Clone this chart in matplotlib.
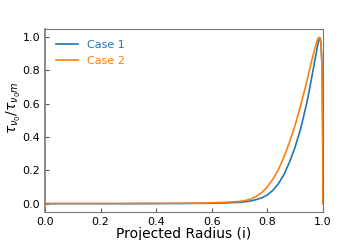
import matplotlib
matplotlib.use("Agg")
import matplotlib.pyplot as plt

# values
radius = [0.0, 0.1, 0.2, 0.3, 0.4, 0.5, 0.55, 0.6, 0.65, 0.7, 0.72, 0.74,
          0.76, 0.78, 0.8, 0.82, 0.84, 0.86, 0.88, 0.9, 0.92, 0.94, 0.95,
          0.96, 0.97, 0.975, 0.98, 0.984, 0.987, 0.99, 0.993, 0.996, 0.998,
          0.9993, 1.0]
case1 = [0.0, 0.0, 0.0, 0.0, 0.0005, 0.001, 0.0015, 0.002, 0.004, 0.008,
         0.011, 0.016, 0.024, 0.035, 0.052, 0.08, 0.12, 0.175, 0.25, 0.34,
         0.45, 0.59, 0.67, 0.76, 0.85, 0.895, 0.94, 0.975, 0.995, 0.995,
         0.96, 0.86, 0.68, 0.4, 0.0]
case2 = [0.0, 0.0, 0.0, 0.0005, 0.001, 0.002, 0.003, 0.005, 0.008, 0.013,
         0.018, 0.027, 0.043, 0.066, 0.1, 0.147, 0.205, 0.28, 0.37, 0.47,
         0.59, 0.72, 0.79, 0.86, 0.925, 0.955, 0.98, 0.995, 0.998, 0.985,
         0.95, 0.85, 0.67, 0.4, 0.0]

fig = plt.figure(figsize=(3.6, 2.4), dpi=100)
ax = fig.add_axes([0.125, 0.117, 0.772, 0.762])

ax.plot(radius, case1, color="#1f77b4", lw=1.2, label="Case 1")
ax.plot(radius, case2, color="#ff7f0e", lw=1.2, label="Case 2")

ax.set_xlim(0.0, 1.0)
ax.set_xticks([0.0, 0.2, 0.4, 0.6, 0.8, 1.0])
ax.set_yticks([0.0, 0.2, 0.4, 0.6, 0.8, 1.0])
ax.tick_params(direction="in", labelsize=8, length=3, color="#555555")
for s in ax.spines.values():
    s.set_color("#777777")
ax.spines["left"].set_linewidth(1.2)

ax.set_xlabel("Projected Radius (i)", fontsize=10, labelpad=0)
ax.set_ylabel(r"$\tau_{\nu_0}/\tau_{{\nu_0}m}$", fontsize=10)
ax.yaxis.set_label_coords(-0.08, 0.57)

ax.legend(loc="upper left", frameon=False, fontsize=8, labelcolor="linecolor",
          handlelength=2.0, borderaxespad=0.6)

fig.savefig("out.png", dpi=100)
